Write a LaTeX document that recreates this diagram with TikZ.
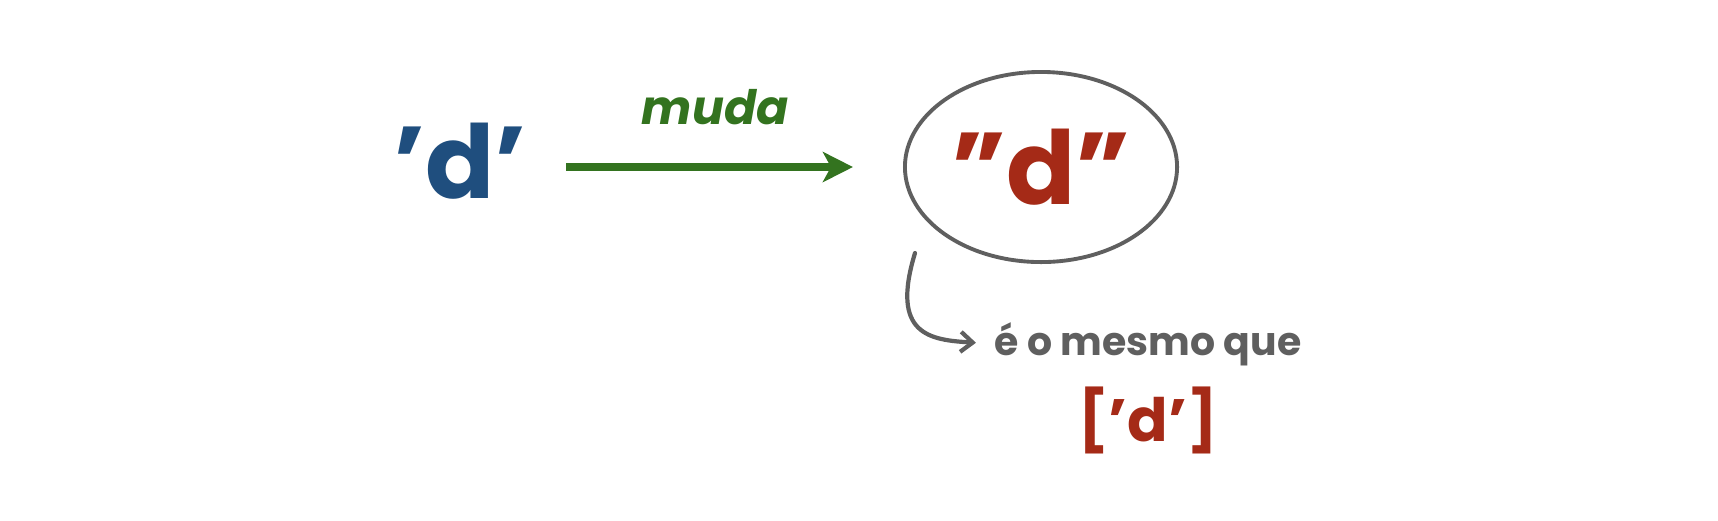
\documentclass[tikz,border=0pt]{standalone}
\usepackage{fontspec}
\setmainfont{Poppins}
\usetikzlibrary{arrows.meta,shapes.geometric}
\definecolor{azul}{HTML}{1F4E7E}
\definecolor{verde}{HTML}{33731F}
\definecolor{verm}{HTML}{A52A17}
\definecolor{cinza}{HTML}{5F5F5F}
\begin{document}
\begin{tikzpicture}[x=0.01cm,y=-0.01cm]
\def\fsz{29}
\tikzset{base/.style={inner sep=0pt},
chr/.style={base,font=\fontsize{\fsz}{\fsz}\selectfont\bfseries},
bub/.style={chr,ellipse,draw=cinza,line width=1.1pt,minimum width=2.72cm,minimum height=1.9cm},
mud/.style={base,font=\fontsize{13.5}{13.5}\selectfont\bfseries\itshape,text=verde},
hand/.style={base,font=\fontsize{11.2}{11.2}\selectfont\bfseries,text=cinza},
every path/.style={line cap=round}}
\useasboundingbox (0,0) rectangle (1718,520);
\node[chr,text=azul] at (460,161) (SRC) {’d’};
\node[bub,text=verm] at (1041,167) (BUB) {”d”};
\node[hand,anchor=base] at (1148,355) (MESMO) {é o mesmo que};
\node[chr,text=verm,font=\fontsize{17}{17}\selectfont\bfseries,anchor=base] at (1148,441) (LST) {[’d’]};
\coordinate (C0) at (915,253);
\draw[verde,line width=2.3pt,line cap=butt,-{Stealth[length=0.3cm,width=0.3cm,inset=0.08cm]},shorten <=0.39cm,shorten >=0.5cm] (SRC.east |- BUB) -- node[mud,above=0.38cm]{muda} (BUB.west);
\draw[cinza,line width=1.2pt,-{Straight Barb[length=0.12cm,width=0.2cm]},shorten >=0.18cm] (C0) .. controls (890,335) and (930,340) .. (MESMO.west);
\end{tikzpicture}
\end{document}
